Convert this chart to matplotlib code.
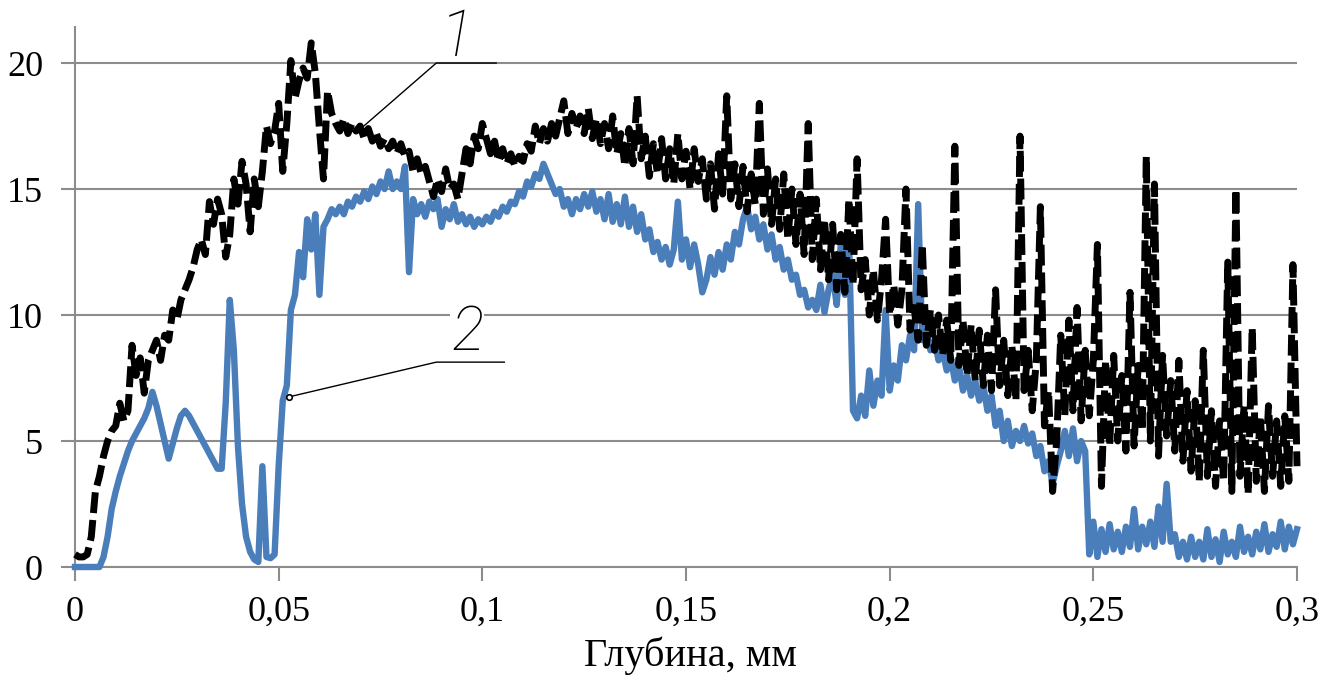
import matplotlib.pyplot as plt

# depth step of 0.001 mm, 0 ... 0.3
depth = [i / 1000 for i in range(301)]

# curve 1 (black, dashed)
curve1 = [
    0.5, 0.4, 0.4, 0.5, 1.2, 3.0, 3.6, 4.4, 5.0, 5.4,
    5.6, 6.5, 5.8, 6.2, 8.8, 7.6, 8.3, 6.9, 8.2, 8.6,
    9.0, 8.2, 9.2, 9.0, 10.2, 9.8, 10.6, 11.0, 11.4, 11.9,
    12.6, 13.0, 12.4, 14.5, 13.6, 14.6, 14.0, 12.3, 13.2, 15.4,
    14.4, 16.1, 15.2, 13.3, 15.4, 14.3, 15.7, 17.5, 16.8, 17.3,
    18.4, 15.7, 17.6, 20.1, 18.6, 19.3, 19.8, 19.4, 20.8, 19.6,
    17.4, 15.4, 18.9, 18.0, 17.6, 17.3, 17.8, 17.2, 17.6, 17.3,
    17.5, 17.0, 17.4, 16.9, 17.2, 16.7, 17.0, 16.6, 16.9, 16.4,
    16.8, 16.3, 16.5, 15.7, 16.2, 15.6, 15.9, 15.3, 14.7, 15.4,
    14.9, 15.8, 15.0, 15.2, 14.6, 15.6, 16.6, 16.0, 17.1, 16.6,
    17.6, 17.0, 16.4, 16.9, 16.1, 16.6, 16.0, 16.4, 15.9, 16.3,
    16.1, 16.8, 16.5, 17.5, 16.8, 17.4, 16.9, 17.6, 17.1, 17.8,
    18.5, 17.2, 18.0, 17.4, 17.9, 17.2, 18.2, 17.0, 17.8, 16.8,
    17.6, 16.6, 17.9, 16.4, 17.2, 15.9, 17.4, 16.0, 18.7, 16.2,
    17.1, 15.5, 16.8, 15.6, 17.0, 15.4, 16.6, 15.2, 17.2, 15.4,
    16.5, 15.0, 16.6, 15.3, 16.2, 14.6, 16.0, 14.2, 16.4, 14.8,
    18.7, 14.6, 16.0, 14.3, 15.9, 14.1, 15.6, 14.4, 18.4, 14.0,
    15.8, 13.6, 15.4, 13.4, 15.6, 13.0, 15.0, 12.8, 14.8, 12.4,
    17.6, 12.2, 14.6, 11.8, 13.8, 11.4, 13.6, 11.0, 13.2, 10.9,
    14.6, 11.2, 16.2, 11.0, 12.2, 10.0, 11.8, 9.8, 11.4, 13.8,
    10.0, 11.2, 9.6, 11.0, 15.0, 9.4, 10.3, 9.0, 12.8, 8.8,
    10.2, 8.6, 10.0, 8.4, 9.8, 8.2, 16.7, 8.0, 9.8, 7.6,
    9.6, 7.4, 9.4, 7.2, 9.2, 7.0, 11.0, 7.2, 9.0, 6.8,
    8.8, 6.6, 17.1, 7.0, 8.6, 6.2, 8.2, 14.3, 5.6, 7.0,
    3.0, 5.0, 9.2, 6.0, 9.8, 6.2, 10.3, 5.8, 8.6, 6.0,
    8.2, 12.8, 3.2, 8.2, 4.8, 8.4, 5.0, 7.6, 4.6, 10.9,
    4.8, 8.0, 5.4, 16.3, 5.0, 15.2, 4.4, 8.4, 5.2, 7.4,
    4.6, 8.2, 4.2, 7.0, 3.8, 6.6, 3.4, 8.6, 3.6, 6.2,
    3.2, 5.8, 3.4, 12.1, 3.0, 15.0, 3.6, 6.4, 2.9, 9.5,
    3.4, 6.0, 3.0, 6.4, 3.6, 5.8, 3.2, 6.0, 3.4, 12.0,
    4.0,
]

# curve 2 (blue, solid)
curve2 = [
    0.0, 0.0, 0.0, 0.0, 0.0, 0.0, 0.0, 0.4, 1.2, 2.3,
    3.0, 3.6, 4.1, 4.6, 5.0, 5.3, 5.6, 5.9, 6.3, 6.95,
    6.4, 5.7, 5.0, 4.3, 4.9, 5.5, 6.0, 6.2, 6.0, 5.7,
    5.4, 5.1, 4.8, 4.5, 4.2, 3.9, 3.9, 6.5, 10.6, 8.6,
    4.8, 2.5, 1.2, 0.6, 0.3, 0.2, 4.0, 0.4, 0.35, 0.5,
    4.0, 6.6, 7.2, 10.2, 10.8, 12.5, 11.5, 13.8, 12.6, 14.0,
    10.8, 13.5, 13.8, 14.2, 14.0, 14.3, 14.0, 14.5, 14.3, 14.7,
    14.5, 14.9, 14.6, 15.1, 14.8, 15.3, 15.0, 15.7, 15.0, 15.3,
    15.0, 15.9, 11.7, 14.6, 14.0, 14.4, 13.9, 14.5, 14.2, 14.6,
    13.5, 14.2, 13.8, 14.4, 13.7, 14.0, 13.6, 13.9, 13.5, 13.8,
    13.6, 13.9, 13.7, 14.1, 13.9, 14.3, 14.1, 14.5, 14.4, 14.9,
    14.7, 15.3, 15.1, 15.6, 15.4, 16.0, 15.6, 15.2, 14.8, 15.0,
    14.3, 14.6, 14.0, 14.6, 14.2, 14.8, 14.3, 14.9, 14.1, 14.6,
    13.8, 14.8, 13.7, 14.4, 13.6, 14.7, 13.5, 14.3, 13.3, 14.0,
    13.0, 13.4, 12.5, 12.9, 12.2, 12.7, 12.0, 12.6, 14.5, 12.2,
    13.0, 11.9, 12.8, 12.0, 10.9, 11.4, 12.3, 11.6, 12.5, 11.8,
    12.8, 12.2, 13.3, 12.8, 13.8, 14.3, 13.4, 13.9, 13.0, 13.6,
    12.6, 13.2, 12.2, 12.7, 11.8, 12.2, 11.4, 11.6, 10.8, 11.0,
    10.3, 10.6, 10.2, 11.2, 10.1, 11.0, 11.6, 10.4, 12.8, 10.8,
    13.2, 6.2, 5.9, 6.8, 6.0, 7.8, 6.4, 7.4, 6.8, 10.2,
    7.0, 8.0, 7.4, 8.8, 8.2, 9.2, 8.6, 14.4, 9.0, 9.4,
    8.6, 9.0, 8.2, 8.6, 7.8, 8.3, 7.4, 8.0, 7.0, 7.6,
    6.8, 7.4, 6.6, 7.2, 6.2, 6.8, 5.6, 6.2, 5.0, 5.8,
    4.8, 5.4, 5.0, 5.6, 4.9, 5.3, 4.4, 4.8, 3.8, 4.2,
    3.3, 4.0, 4.6, 5.4, 4.4, 5.5, 4.2, 5.0, 4.6, 0.5,
    1.8, 0.4, 1.5, 0.6, 1.7, 0.7, 1.4, 0.6, 1.6, 0.8,
    2.3, 0.7, 1.6, 0.9, 1.8, 0.8, 2.4, 1.0, 3.3, 1.0,
    1.3, 0.4, 1.0, 0.3, 1.2, 0.4, 1.0, 0.3, 1.5, 0.4,
    1.1, 0.2, 1.4, 0.5, 1.0, 0.4, 1.6, 0.6, 1.2, 0.5,
    1.4, 0.7, 1.7, 0.6, 1.3, 0.8, 1.8, 0.7, 1.6, 0.9,
    1.5,
]

x_ticks = [0, 0.05, 0.1, 0.15, 0.2, 0.25, 0.3]
x_labels = ["0", "0,05", "0,1", "0,15", "0,2", "0,25", "0,3"]
y_ticks = [0, 5, 10, 15, 20]

grey = "#8c8c8c"

fig = plt.figure(figsize=(13.24, 6.86), dpi=100)
ax = fig.add_axes([75 / 1324, 119 / 686, 1222 / 1324, 540 / 686])

ax.plot(depth, curve2, color="#4a7ebb", lw=4.6, zorder=3, clip_on=False)
ax.plot(depth, curve1, color="black", lw=5, dashes=(3.0, 1.0),
        zorder=4, clip_on=False)

ax.set_xlim(0, 0.3)
ax.set_ylim(0, 21.43)

ax.set_xticks(x_ticks)
ax.set_xticklabels(x_labels)
ax.set_yticks(y_ticks)
ax.tick_params(axis="both", color=grey, width=1.5, length=10,
               labelsize=26, labelcolor="black")
ax.tick_params(axis="x", pad=11)
ax.tick_params(axis="y", pad=13)
for lab in ax.get_xticklabels() + ax.get_yticklabels():
    lab.set_fontfamily("Liberation Serif")

ax.yaxis.grid(True, color=grey, lw=1.5)
ax.set_axisbelow(True)
for s in ["top", "right"]:
    ax.spines[s].set_visible(False)
for s in ["left", "bottom"]:
    ax.spines[s].set_color(grey)
    ax.spines[s].set_linewidth(1.5)

# curve labels with leader lines
ax.plot([0.0709, 0.0887, 0.1034], [17.5, 20.0, 20.0], color="black",
        lw=1, zorder=6, clip_on=False)
ax.text(0.0938, 21.0, "1", fontsize=46, style="italic", fontweight="light",
        family=["Roboto", "DejaVu Sans"],
        ha="center", va="center", zorder=5)

ax.plot([0.0525, 0.0887, 0.1054], [6.75, 8.13, 8.13], color="black",
        lw=1, zorder=6, clip_on=False)
ax.plot([0.0525], [6.75], marker="o", ms=4, mfc="white", mec="black",
        mew=1.2, zorder=7)
ax.text(0.0963, 9.3, "2", fontsize=44, style="italic", fontweight="light",
        family=["Roboto", "DejaVu Sans"],
        ha="center", va="center", zorder=5,
        bbox=dict(facecolor="white", edgecolor="none", pad=0.5))

fig.text(690 / 1324, 30 / 686, "Глубина, мм", fontsize=29,
         family="Liberation Serif", ha="center", va="center")

plt.savefig("out.png", dpi=100)
